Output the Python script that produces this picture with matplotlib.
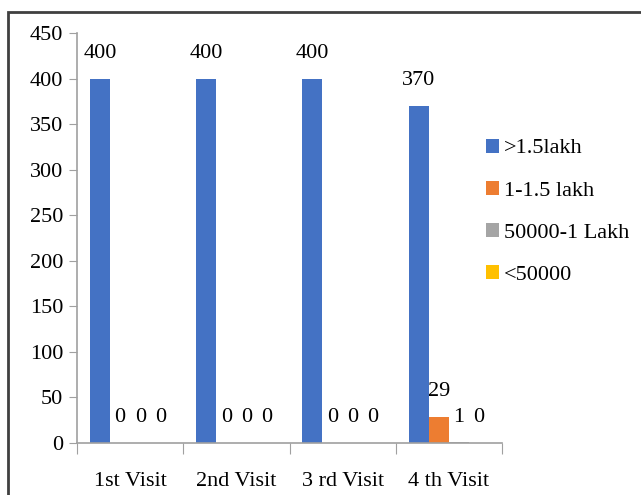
import numpy as np
import matplotlib.pyplot as plt
from matplotlib.patches import Rectangle

# Income groups per visit
visits = ["1st Visit", "2nd Visit", "3 rd Visit", "4 th Visit"]
series_names = [">1.5lakh", "1-1.5 lakh", "50000-1 Lakh", "<50000"]
above_15 = [400, 400, 400, 370]
from_1_to_15 = [0, 0, 0, 29]
from_50k_to_1 = [0, 0, 0, 1]
below_50k = [0, 0, 0, 0]
colors = ["#4472C4", "#ED7D31", "#A5A5A5", "#FFC000"]

plt.rcParams["font.family"] = ["Liberation Serif", "DejaVu Serif"]
plt.rcParams["font.size"] = 16

fig = plt.figure(figsize=(6.41, 4.95), dpi=100)
ax = fig.add_axes([0.1201, 0.1051, 0.6631, 0.8282])

x = np.arange(len(visits))
w = 0.19
all_series = [above_15, from_1_to_15, from_50k_to_1, below_50k]
for i, (vals, name, c) in enumerate(zip(all_series, series_names, colors)):
    pos = x + (i - 1.5) * w
    ax.bar(pos, vals, width=w, color=c, label=name)
    for px, v in zip(pos, vals):
        ax.annotate(str(v), (px, v), xytext=(0, 18), textcoords="offset points",
                    ha="center", va="center")

ax.set_xlim(-0.5, 3.5)
ax.set_ylim(0, 450)
ax.set_yticks(np.arange(0, 451, 50))

# boundaries get the tick marks, category centres get the labels
ax.set_xticks(np.arange(-0.5, 3.6, 1))
ax.set_xticklabels([])
ax.set_xticks(x, minor=True)
ax.set_xticklabels(visits, minor=True)
ax.tick_params(axis="x", which="major", length=8, color="#a0a0a0", direction="out")
ax.tick_params(axis="x", which="minor", length=0, pad=21)
ax.tick_params(axis="y", length=6, color="#a0a0a0", direction="out", pad=4)

for s in ["top", "right"]:
    ax.spines[s].set_visible(False)
for s in ["left", "bottom"]:
    ax.spines[s].set_color("#a0a0a0")
    ax.spines[s].set_linewidth(1.2)

fig.legend(loc="upper left", bbox_to_anchor=(0.758, 0.720), frameon=False,
           handlelength=0.6, handleheight=0.6, handletextpad=0.2,
           labelspacing=1.0, borderpad=0, borderaxespad=0)

# outer frame
fig.patches.append(Rectangle((8 / 641, -0.1), 1.2, 1.1 - 12 / 495,
                             transform=fig.transFigure, fill=False,
                             edgecolor="#404040", linewidth=2))

fig.savefig("out.png", dpi=100)
